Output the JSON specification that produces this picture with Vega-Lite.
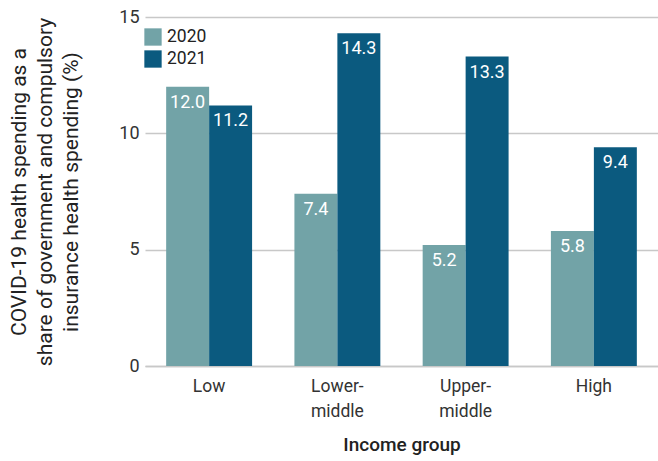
{
  "$schema": "https://vega.github.io/schema/vega-lite/v6.json",
  "width": 513,
  "height": 349,
  "autosize": "none",
  "padding": {"left": 145, "top": 17, "right": 0, "bottom": 95},
  "background": "white",
  "config": {
    "view": {"stroke": null},
    "font": "Roboto",
    "axis": {"labelFont": "Roboto", "titleFont": "Roboto", "labelColor": "#333", "titleColor": "#222"},
    "legend": {"labelFont": "Roboto"}
  },
  "data": {
    "values": [
      {"group": "Low", "year": "2020", "value": 12.0},
      {"group": "Low", "year": "2021", "value": 11.2},
      {"group": "Lower-middle", "year": "2020", "value": 7.4},
      {"group": "Lower-middle", "year": "2021", "value": 14.3},
      {"group": "Upper-middle", "year": "2020", "value": 5.2},
      {"group": "Upper-middle", "year": "2021", "value": 13.3},
      {"group": "High", "year": "2020", "value": 5.8},
      {"group": "High", "year": "2021", "value": 9.4}
    ]
  },
  "encoding": {
    "x": {
      "field": "group",
      "type": "nominal",
      "sort": ["Low", "Lower-middle", "Upper-middle", "High"],
      "scale": {"paddingInner": 0.33, "paddingOuter": 0.165},
      "axis": {
        "title": "Income group",
        "titleFontSize": 19,
        "titleFontWeight": 500,
        "titlePadding": 16,
        "labelAngle": 0,
        "labelFontSize": 17.5,
        "labelPadding": 11,
        "labelLineHeight": 25,
        "labelExpr": "datum.value == 'Lower-middle' ? ['Lower-', 'middle'] : datum.value == 'Upper-middle' ? ['Upper-', 'middle'] : datum.value",
        "domain": true,
        "domainColor": "#c8c8c8",
        "domainWidth": 1.5,
        "ticks": false
      }
    },
    "xOffset": {"field": "year", "type": "nominal"},
    "y": {
      "field": "value",
      "type": "quantitative",
      "scale": {"domain": [0, 15]},
      "axis": {
        "title": ["COVID-19 health spending as a", "share of government and compulsory", "insurance health spending (%)"],
        "titleFontSize": 21,
        "titleFontWeight": "normal",
        "titleLineHeight": 26,
        "titlePadding": 37,
        "values": [0, 5, 10, 15],
        "labelFontSize": 18,
        "labelPadding": 6,
        "domain": false,
        "ticks": false,
        "grid": true,
        "gridColor": "#c8c8c8",
        "gridWidth": 1.5
      }
    }
  },
  "layer": [
    {
      "mark": {"type": "bar"},
      "encoding": {
        "color": {
          "field": "year",
          "type": "nominal",
          "scale": {"domain": ["2020", "2021"], "range": ["#72a3a7", "#0b5a7f"]},
          "legend": {
            "title": null,
            "orient": "none",
            "legendX": -1,
            "legendY": 11,
            "symbolType": "square",
            "symbolSize": 300,
            "symbolStrokeWidth": 0,
            "labelFontSize": 17.5,
            "labelColor": "#222",
            "rowPadding": 4,
            "labelOffset": 5
          }
        }
      }
    },
    {
      "mark": {"type": "text", "baseline": "top", "dy": 7, "color": "white", "fontSize": 18, "font": "Roboto"},
      "encoding": {
        "text": {"field": "value", "type": "quantitative", "format": ".1f"}
      }
    }
  ]
}
